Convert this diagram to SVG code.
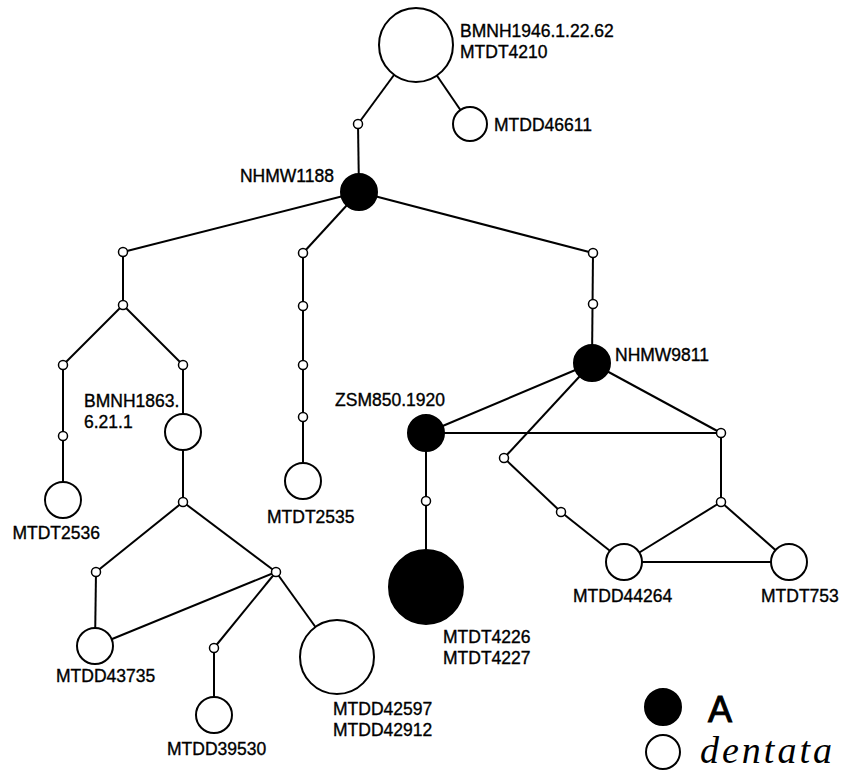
<svg xmlns="http://www.w3.org/2000/svg" width="852" height="782" viewBox="0 0 852 782">
<style>
.e line{stroke:#000;stroke-width:2;fill:none}
.w{fill:#fff;stroke:#000;stroke-width:2}
.b{fill:#000;stroke:#000;stroke-width:2}
.s{fill:#fff;stroke:#000;stroke-width:1.5}
text{font-family:"Liberation Sans",Arial,sans-serif;font-size:17.5px;fill:#000;stroke:#000;stroke-width:0.35}
</style>
<rect width="852" height="782" fill="#fff"/>
<g id="connectors" class="e">
<line x1="416" y1="45" x2="358" y2="124"/>
<line x1="416" y1="45" x2="470" y2="124"/>
<line x1="358" y1="124" x2="359" y2="192"/>
<line x1="359" y1="192" x2="123" y2="252"/>
<line x1="359" y1="192" x2="303" y2="253"/>
<line x1="359" y1="192" x2="593" y2="253"/>
<line x1="123" y1="252" x2="123" y2="305"/>
<line x1="123" y1="305" x2="63" y2="365"/>
<line x1="123" y1="305" x2="183" y2="365"/>
<line x1="63" y1="365" x2="63" y2="436"/>
<line x1="63" y1="436" x2="63" y2="500"/>
<line x1="183" y1="365" x2="183" y2="432"/>
<line x1="183" y1="432" x2="183" y2="502"/>
<line x1="183" y1="502" x2="96" y2="572"/>
<line x1="183" y1="502" x2="276" y2="572"/>
<line x1="96" y1="572" x2="95" y2="646"/>
<line x1="276" y1="572" x2="95" y2="646"/>
<line x1="276" y1="572" x2="214" y2="648"/>
<line x1="214" y1="648" x2="214" y2="715"/>
<line x1="276" y1="572" x2="337" y2="657"/>
<line x1="303" y1="253" x2="303" y2="481"/>
<line x1="593" y1="253" x2="592" y2="363"/>
<line x1="592" y1="363" x2="426" y2="433"/>
<line x1="592" y1="363" x2="504" y2="458"/>
<line x1="592" y1="363" x2="721" y2="433"/>
<line x1="426" y1="433" x2="721" y2="433"/>
<line x1="426" y1="433" x2="426" y2="587"/>
<line x1="504" y1="458" x2="561" y2="512"/>
<line x1="561" y1="512" x2="624" y2="562"/>
<line x1="721" y1="433" x2="721" y2="502"/>
<line x1="721" y1="502" x2="624" y2="562"/>
<line x1="721" y1="502" x2="789" y2="562"/>
<line x1="624" y1="562" x2="789" y2="562"/>
</g>
<g id="BMNH1946"><circle class="w" cx="416" cy="45" r="37"/><text x="460" y="37">BMNH1946.1.22.62</text><text x="460" y="58">MTDT4210</text></g>
<g id="MTDD46611"><circle class="w" cx="470" cy="124" r="17"/><text x="494" y="131">MTDD46611</text></g>
<g id="NHMW1188"><circle class="b" cx="359" cy="192" r="18"/><text x="334" y="182" text-anchor="end">NHMW1188</text></g>
<g id="MTDT2536"><circle class="w" cx="63" cy="500" r="18"/><text x="100" y="539" text-anchor="end">MTDT2536</text></g>
<g id="BMNH1863"><circle class="w" cx="183" cy="432" r="18"/><text x="84" y="407">BMNH1863.</text><text x="84" y="428">6.21.1</text></g>
<g id="MTDT2535"><circle class="w" cx="303" cy="481" r="18"/><text x="267" y="523">MTDT2535</text></g>
<g id="MTDD43735"><circle class="w" cx="95" cy="646" r="18"/><text x="56" y="682">MTDD43735</text></g>
<g id="MTDD39530"><circle class="w" cx="214" cy="715" r="18"/><text x="167" y="755">MTDD39530</text></g>
<g id="MTDD42597"><circle class="w" cx="337" cy="657" r="37"/><text x="333" y="715">MTDD42597</text><text x="333" y="736">MTDD42912</text></g>
<g id="NHMW9811"><circle class="b" cx="592" cy="363" r="18"/><text x="615" y="361">NHMW9811</text></g>
<g id="ZSM850.1920"><circle class="b" cx="426" cy="433" r="18"/><text x="445" y="406" text-anchor="end">ZSM850.1920</text></g>
<g id="MTDT4226"><circle class="b" cx="426" cy="587" r="37"/><text x="443" y="643">MTDT4226</text><text x="443" y="664">MTDT4227</text></g>
<g id="MTDD44264"><circle class="w" cx="624" cy="562" r="18"/><text x="573" y="602">MTDD44264</text></g>
<g id="MTDT753"><circle class="w" cx="789" cy="562" r="18"/><text x="761" y="602">MTDT753</text></g>
<g id="median-vectors">
<circle class="s" cx="358" cy="124" r="4.5"/>
<circle class="s" cx="123" cy="252" r="4.5"/>
<circle class="s" cx="123" cy="305" r="4.5"/>
<circle class="s" cx="63" cy="365" r="4.5"/>
<circle class="s" cx="183" cy="365" r="4.5"/>
<circle class="s" cx="63" cy="436" r="4.5"/>
<circle class="s" cx="183" cy="502" r="4.5"/>
<circle class="s" cx="96" cy="572" r="4.5"/>
<circle class="s" cx="276" cy="572" r="4.5"/>
<circle class="s" cx="214" cy="648" r="4.5"/>
<circle class="s" cx="303" cy="253" r="4.5"/>
<circle class="s" cx="303" cy="306" r="4.5"/>
<circle class="s" cx="303" cy="365" r="4.5"/>
<circle class="s" cx="303" cy="417" r="4.5"/>
<circle class="s" cx="593" cy="253" r="4.5"/>
<circle class="s" cx="593" cy="304" r="4.5"/>
<circle class="s" cx="426" cy="501" r="4.5"/>
<circle class="s" cx="504" cy="458" r="4.5"/>
<circle class="s" cx="561" cy="512" r="4.5"/>
<circle class="s" cx="721" cy="433" r="4.5"/>
<circle class="s" cx="721" cy="502" r="4.5"/>
</g>
<g id="legend">
<circle class="b" cx="663" cy="707" r="18"/>
<text x="708" y="722" style="font-size:36px;stroke-width:1">A</text>
<circle class="w" cx="663" cy="752" r="17"/>
<text x="700" y="763" style="font-family:'Liberation Serif','Times New Roman',serif;font-style:italic;font-size:38px;letter-spacing:3px;stroke-width:0">dentata</text>
</g>
</svg>
